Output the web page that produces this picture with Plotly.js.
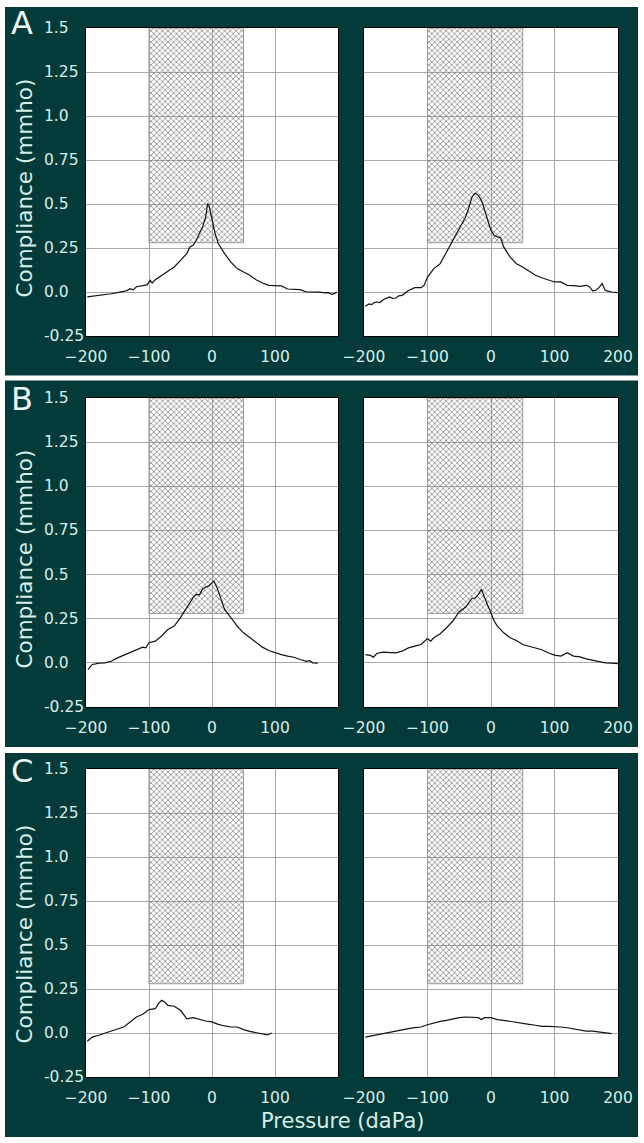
<!DOCTYPE html>
<html>
<head>
<meta charset="utf-8">
<script src="https://cdn.plot.ly/plotly-3.0.1.min.js"></script>
<style>html,body{margin:0;padding:0;background:#fff;}#chart{width:644px;height:1143px;}</style>
</head>
<body>
<div id="chart"></div>
<script>
// ---------- data ----------
const panelLabels = ['A', 'B', 'C'];
const yTickValues = [-0.25, 0, 0.25, 0.5, 0.75, 1.0, 1.25, 1.5];
const yTickLabels = ['-0.25', '0.0', '0.25', '0.5', '0.75', '1.0', '1.25', '1.5'];
const xTickLeft = [-200, -100, 0, 100];
const xTickRight = [-200, -100, 0, 100, 200];
const normalPressure = [-100, 50];
const normalCompliance = [0.28, 1.5];

const pressureA1 = [-198,-190,-180,-170,-160,-150,-140,-135,-130,-125,-120,-110,-103,-98,-95,-90,-80,-70,-60,-50,-40,-35,-30,-25,-20,-15,-10,-7,-5,-2,0,5,10,15,20,30,40,50,60,70,80,90,100,110,120,130,140,150,160,170,180,185,190,195,198];
const complianceA1 = [-0.028,-0.025,-0.019,-0.015,-0.01,-0.004,0.004,0.008,0.019,0.012,0.03,0.036,0.04,0.066,0.051,0.07,0.095,0.119,0.142,0.18,0.218,0.256,0.265,0.294,0.331,0.369,0.426,0.502,0.495,0.445,0.398,0.331,0.275,0.246,0.218,0.17,0.133,0.114,0.095,0.07,0.051,0.038,0.036,0.035,0.017,0.015,0.013,0.0,0.0,-0.001,-0.005,-0.004,-0.013,-0.008,0.0];

const pressureA2 = [-198,-192,-188,-184,-180,-175,-170,-165,-160,-155,-150,-145,-140,-130,-120,-110,-105,-100,-90,-80,-70,-60,-50,-40,-35,-30,-25,-20,-15,-10,-5,0,5,10,15,20,30,40,50,60,70,80,90,100,110,120,130,140,150,155,160,165,170,175,180,190,200];
const complianceA2 = [-0.081,-0.068,-0.072,-0.06,-0.057,-0.06,-0.044,-0.038,-0.028,-0.036,-0.034,-0.022,-0.019,0.009,0.025,0.025,0.04,0.085,0.133,0.161,0.227,0.294,0.36,0.426,0.479,0.54,0.562,0.549,0.521,0.464,0.407,0.35,0.322,0.313,0.309,0.256,0.199,0.161,0.142,0.119,0.095,0.081,0.07,0.057,0.057,0.038,0.036,0.032,0.038,0.03,0.006,0.01,0.025,0.047,0.009,0.0,-0.004];

const pressureB1 = [-197,-190,-185,-180,-170,-160,-150,-140,-130,-120,-110,-105,-100,-90,-80,-70,-60,-50,-40,-30,-25,-20,-15,-10,-5,0,3,8,15,20,30,40,50,60,70,80,90,100,110,120,130,140,150,155,160,168];
const complianceB1 = [-0.038,-0.009,-0.006,-0.002,0,0.009,0.028,0.044,0.057,0.076,0.089,0.085,0.114,0.123,0.152,0.189,0.208,0.256,0.312,0.369,0.388,0.385,0.417,0.43,0.436,0.455,0.464,0.426,0.35,0.303,0.256,0.208,0.17,0.142,0.114,0.089,0.07,0.057,0.047,0.038,0.032,0.019,0.009,0.012,0.0,-0.002];

const pressureB2 = [-198,-190,-185,-180,-170,-160,-150,-140,-130,-120,-110,-100,-95,-90,-80,-70,-60,-50,-40,-30,-25,-20,-15,-10,-5,0,5,10,20,30,40,50,60,70,80,90,100,110,120,130,140,150,160,170,180,190,200];
const complianceB2 = [0.047,0.042,0.032,0.053,0.061,0.057,0.057,0.066,0.085,0.095,0.104,0.138,0.123,0.142,0.165,0.199,0.237,0.29,0.316,0.366,0.366,0.388,0.417,0.369,0.322,0.275,0.237,0.208,0.17,0.142,0.127,0.104,0.093,0.085,0.074,0.057,0.044,0.038,0.057,0.038,0.034,0.023,0.015,0.009,0.0,-0.002,-0.004];

const pressureC1 = [-198,-190,-180,-170,-160,-150,-140,-130,-120,-110,-100,-90,-85,-80,-75,-70,-60,-50,-40,-30,-20,-10,0,10,20,30,40,50,60,70,80,88,95];
const complianceC1 = [-0.047,-0.023,-0.013,0,0.011,0.023,0.034,0.063,0.091,0.106,0.133,0.138,0.167,0.186,0.176,0.157,0.152,0.129,0.081,0.087,0.076,0.068,0.063,0.049,0.04,0.034,0.034,0.019,0.009,0.002,-0.004,-0.011,0];

const pressureC2 = [-198,-190,-180,-170,-160,-150,-140,-130,-120,-110,-100,-90,-80,-70,-60,-50,-40,-30,-20,-15,-10,0,10,20,30,40,50,60,70,80,90,100,110,120,130,140,150,160,170,180,190];
const complianceC2 = [-0.023,-0.019,-0.011,-0.004,0.004,0.011,0.019,0.025,0.03,0.034,0.047,0.057,0.066,0.072,0.08,0.087,0.091,0.091,0.087,0.076,0.087,0.087,0.076,0.072,0.066,0.057,0.053,0.049,0.044,0.038,0.038,0.038,0.034,0.03,0.023,0.015,0.011,0.011,0.006,0.004,-0.004];

const seriesX = [pressureA1, pressureA2, pressureB1, pressureB2, pressureC1, pressureC2];
const seriesY = [complianceA1, complianceA2, complianceB1, complianceB2, complianceC1, complianceC2];

// ---------- layout helpers ----------
const W = 644, H = 1143;
const px = v => v / W;
const py = v => 1 - v / H;
const DARK = '#033a3a';
const TEXT = '#d6efe9';
const FONT = 'DejaVu Sans, sans-serif';
const TICK_SIZE = 15.5;

const colPx = [[86, 338], [364, 618]];
const rowPx = [[28, 336], [398, 707], [769, 1077]];
const panelPx = [[7, 375.5], [380.5, 747], [753, 1137]];

const traces = [];
const layout = {
  width: W, height: H,
  margin: {l: 0, r: 0, t: 0, b: 0},
  paper_bgcolor: DARK,
  plot_bgcolor: '#ffffff',
  showlegend: false,
  font: {family: FONT, color: TEXT},
  shapes: [],
  annotations: []
};

// white gaps around / between the panels
const white = (x0, x1, y0, y1) => ({type: 'rect', xref: 'paper', yref: 'paper', x0: px(x0), x1: px(x1), y0: py(y1), y1: py(y0), fillcolor: '#ffffff', line: {width: 0}, layer: 'below'});
layout.shapes.push(white(0, 5, 0, H));
layout.shapes.push(white(638, W, 0, H));
layout.shapes.push(white(0, W, 0, panelPx[0][0]));
layout.shapes.push(white(0, W, panelPx[0][1], panelPx[1][0]));
layout.shapes.push(white(0, W, panelPx[1][1], panelPx[2][0]));
layout.shapes.push(white(0, W, panelPx[2][1], H));

const hatchX = [normalPressure[0], normalPressure[1], normalPressure[1], normalPressure[0], normalPressure[0]];
const hatchY = [normalCompliance[0], normalCompliance[0], normalCompliance[1], normalCompliance[1], normalCompliance[0]];

for (let r = 0; r < 3; r++) {
  for (let c = 0; c < 2; c++) {
    const i = r * 2 + c + 1;
    const xa = 'x' + i, ya = 'y' + i;
    const xk = i === 1 ? 'xaxis' : 'xaxis' + i;
    const yk = i === 1 ? 'yaxis' : 'yaxis' + i;
    layout[xk] = {
      domain: [px(colPx[c][0]), px(colPx[c][1])], anchor: ya,
      range: [-200, 200], tickmode: 'array',
      tickvals: c === 0 ? xTickLeft : xTickRight,
      showgrid: true, gridcolor: '#a8a8a8', gridwidth: 1, zeroline: false,
      showline: true, mirror: true, linecolor: '#000', linewidth: 1,
      ticks: '', ticklabelstandoff: 6,
      tickfont: {family: FONT, size: TICK_SIZE, color: TEXT}, fixedrange: true
    };
    layout[yk] = {
      domain: [py(rowPx[r][1]), py(rowPx[r][0])], anchor: xa,
      range: [-0.25, 1.5], tickmode: 'array', tickvals: yTickValues,
      showticklabels: false, showgrid: true, gridcolor: '#a8a8a8', gridwidth: 1,
      zeroline: false, showline: true, mirror: true, linecolor: '#000', linewidth: 1,
      ticks: '', fixedrange: true
    };
    // normal-range hatched region
    traces.push({
      type: 'scatter', mode: 'lines', x: hatchX, y: hatchY, xaxis: xa, yaxis: ya,
      fill: 'toself', fillcolor: 'rgba(255,255,255,0)',
      fillpattern: {shape: 'x', fgcolor: '#7a7a7a', bgcolor: 'rgba(255,255,255,0)', size: 4, solidity: 0.32},
      line: {color: '#999999', width: 1}, hoverinfo: 'skip'
    });
    traces.push({
      type: 'scatter', mode: 'lines', x: seriesX[i - 1], y: seriesY[i - 1],
      xaxis: xa, yaxis: ya, line: {color: '#111', width: 1.2}
    });
  }
  // left-aligned y tick labels, placed on the left subplot's y scale
  const yref = r === 0 ? 'y' : 'y' + (r * 2 + 1);
  yTickValues.forEach((v, k) => {
    layout.annotations.push({
      xref: 'paper', yref: yref, x: px(41.5), y: v, xanchor: 'left', yanchor: 'middle',
      text: yTickLabels[k], showarrow: false, font: {family: FONT, size: TICK_SIZE, color: TEXT}
    });
  });
  // panel letter
  const letterY = [23.5, 399, 770.5][r];
  layout.annotations.push({
    xref: 'paper', yref: 'paper', x: px(21.5), y: py(letterY), xanchor: 'center', yanchor: 'middle',
    text: panelLabels[r], showarrow: false, font: {family: FONT, size: 32, color: '#eef8f6'}
  });
  // y title
  const titleY = [188, 559, 934][r];
  layout.annotations.push({
    xref: 'paper', yref: 'paper', x: px(23.5), y: py(titleY), xanchor: 'center', yanchor: 'middle',
    text: 'Compliance (mmho)', textangle: -90, showarrow: false,
    font: {family: FONT, size: 21.5, color: TEXT}
  });
}
layout.annotations.push({
  xref: 'paper', yref: 'paper', x: px(342.5), y: py(1121), xanchor: 'center', yanchor: 'middle',
  text: 'Pressure (daPa)', showarrow: false, font: {family: FONT, size: 21, color: TEXT}
});

Plotly.newPlot('chart', traces, layout, {displayModeBar: false, staticPlot: true});
</script>
</body>
</html>
